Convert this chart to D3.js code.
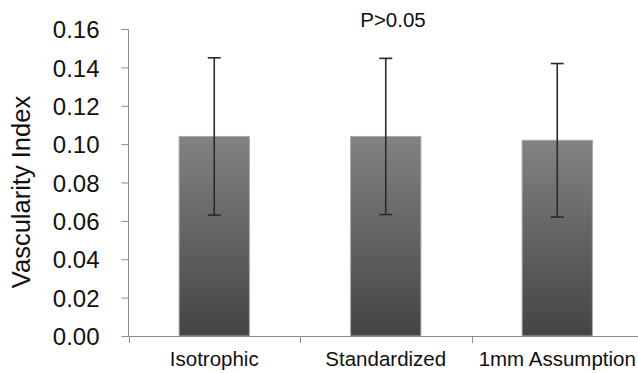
<!DOCTYPE html>
<html>
<head>
<meta charset="utf-8">
<script src="https://cdn.jsdelivr.net/npm/d3@7/dist/d3.min.js"></script>
<style>
  html, body { margin: 0; padding: 0; background: #fff; }
  svg { display: block; }
  text { font-family: "Liberation Sans", Arial, sans-serif; fill: #111; }
</style>
</head>
<body>
<svg id="chart" width="638" height="373"></svg>
<script>
// Vascularity index by measurement method (mean ± SD)
const categories = ["Isotrophic", "Standardized", "1mm Assumption"];
const means = [0.104, 0.104, 0.102];
const sds = [0.041, 0.0407, 0.040];
const yTicks = [0, 0.02, 0.04, 0.06, 0.08, 0.10, 0.12, 0.14, 0.16];
const yLabel = "Vascularity Index";
const note = "P>0.05";

const svg = d3.select("#chart");
const W = 638, H = 373;
const plotLeft = 128.5, plotBottom = 336, plotTop = 29;

const y = d3.scaleLinear().domain([0, 0.16]).range([plotBottom, plotTop]);
const x = d3.scaleBand().domain(categories)
  .range([plotLeft, plotLeft + 3 * 171.5])
  .paddingInner(0.59).paddingOuter(0.295);

// bar fill: light grey at top fading to dark grey at base
const defs = svg.append("defs");
const grad = defs.append("linearGradient")
  .attr("id", "barGrad").attr("x1", 0).attr("y1", 0).attr("x2", 0).attr("y2", 1);
grad.append("stop").attr("offset", "0%").attr("stop-color", "#828282");
grad.append("stop").attr("offset", "100%").attr("stop-color", "#444444");

// y axis
const yAxis = d3.axisLeft(y).tickValues(yTicks).tickFormat(d3.format(".2f"))
  .tickSize(7).tickPadding(22);
const gy = svg.append("g").attr("transform", `translate(${plotLeft},0)`).call(yAxis);
gy.select(".domain").attr("stroke", "#8c8c8c").attr("d", `M-7,${plotTop + 0.5}H0V${plotBottom}`);
gy.selectAll(".tick line").attr("stroke", "#8c8c8c");
gy.selectAll(".tick text").style("font-size", "24px").style("fill", "#111")
  .attr("dy", "0.36em")
  .attr("font-family", null);

// bars
svg.append("g").selectAll("rect").data(categories).join("rect")
  .attr("x", d => x(d))
  .attr("y", (d, i) => y(means[i]))
  .attr("width", x.bandwidth())
  .attr("height", (d, i) => y(0) - y(means[i]))
  .attr("fill", "url(#barGrad)")
  .attr("stroke", "#a8a8a8").attr("stroke-width", 1);

// x axis line and category separators
const gx = svg.append("g");
gx.append("line").attr("x1", plotLeft).attr("x2", W).attr("y1", plotBottom + 0.5).attr("y2", plotBottom + 0.5)
  .attr("stroke", "#8c8c8c");
const step = x.step();
gx.selectAll(".sep").data(d3.range(categories.length)).join("line")
  .attr("class", "sep")
  .attr("x1", i => Math.round(plotLeft + i * step) + 0.5)
  .attr("x2", i => Math.round(plotLeft + i * step) + 0.5)
  .attr("y1", plotBottom).attr("y2", plotBottom + 7)
  .attr("stroke", "#8c8c8c");
gx.selectAll(".cat").data(categories).join("text")
  .attr("class", "cat")
  .attr("x", d => x(d) + x.bandwidth() / 2)
  .attr("y", 366)
  .attr("text-anchor", "middle")
  .style("font-size", "20.5px")
  .text(d => d);

// error bars
const eb = svg.append("g").attr("stroke", "#2b2b2b").attr("stroke-width", 1.6);
categories.forEach((c, i) => {
  const cx = x(c) + x.bandwidth() / 2;
  eb.append("line").attr("x1", cx).attr("x2", cx)
    .attr("y1", y(means[i] + sds[i])).attr("y2", y(means[i] - sds[i]));
  [means[i] + sds[i], means[i] - sds[i]].forEach(v => {
    eb.append("line").attr("x1", cx - 6.5).attr("x2", cx + 6.5)
      .attr("y1", y(v)).attr("y2", y(v));
  });
});

// y axis title
svg.append("text")
  .attr("transform", `translate(30,192) rotate(-90)`)
  .attr("text-anchor", "middle")
  .style("font-size", "25.5px")
  .text(yLabel);

// significance note
svg.append("text")
  .attr("x", 393).attr("y", 27)
  .attr("text-anchor", "middle")
  .style("font-size", "20.5px")
  .text(note);
</script>
</body>
</html>
